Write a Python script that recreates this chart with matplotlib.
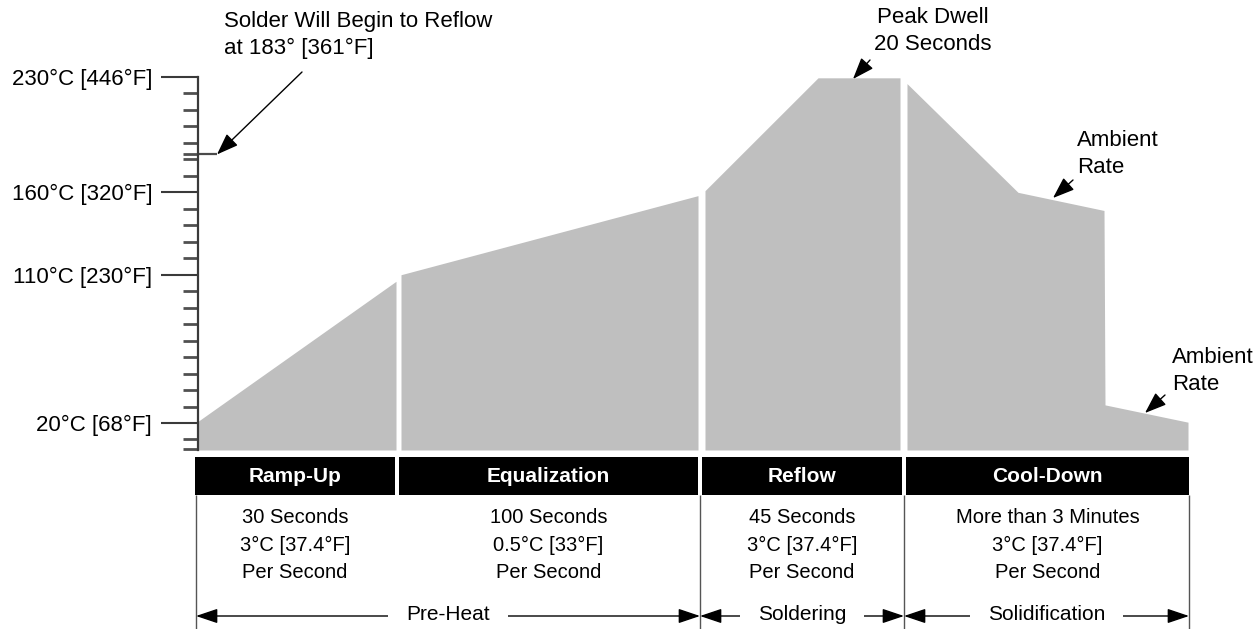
import matplotlib
matplotlib.use("Agg")
import matplotlib.pyplot as plt
from matplotlib import font_manager
from matplotlib.patches import Rectangle

# ---------------- data ----------------
phases = ["Ramp-Up", "Equalization", "Reflow", "Cool-Down"]
phase_details = [
    "30 Seconds\n3°C [37.4°F]\nPer Second",
    "100 Seconds\n0.5°C [33°F]\nPer Second",
    "45 Seconds\n3°C [37.4°F]\nPer Second",
    "More than 3 Minutes\n3°C [37.4°F]\nPer Second",
]
groups = ["Pre-Heat", "Soldering", "Solidification"]

# temperature profile (schematic position along the time axis, °C)
ramp_x = [0, 198]
ramp_t = [21, 106]
equal_x = [203, 500]
equal_t = [110, 158]
reflow_x = [507, 620, 702]
reflow_t = [161, 229.5, 229.5]
cool_x = [709, 820, 906, 907, 990]
cool_t = [226, 160, 149, 31, 20.5]

major_temps = [20, 110, 160, 230]
major_labels = ["20°C [68°F]", "110°C [230°F]", "160°C [320°F]", "230°C [446°F]"]
minor_temps = [4, 10, 30, 40, 50, 60, 70, 80, 90, 100, 120, 130, 140, 150,
               170, 180, 183, 190, 200, 210, 220]
reflow_temp = 183

# ---------------- layout ----------------
W, H = 1259, 629
X0, XW = 198, 993          # pixel left / width of plot area
Y_TOP, Y_BOT = 77, 450     # pixel top / bottom of plot area
T_TOP = 230.0
T_BOT = 20 - (Y_BOT - 423) / ((423 - Y_TOP) / 210.0)

# table column layout (same x units as plot)
col_x0 = [-3, 201, 504, 708]
col_x1 = [197, 500, 704, 991]
div_x = [-2, 502, 706, 991]
group_span = [(0, 1), (1, 2), (2, 3)]


def pick(fams):
    for f in fams:
        try:
            font_manager.findfont(font_manager.FontProperties(family=f),
                                  fallback_to_default=False)
            return f
        except Exception:
            pass
    return "DejaVu Sans"


REG = pick(["Liberation Sans", "Arial", "DejaVu Sans"])
plt.rcParams["font.family"] = [REG, "DejaVu Sans"]

FILL = "#bfbfbf"
fig = plt.figure(figsize=(W / 100, H / 100), dpi=100)

# ---------------- main profile axes ----------------
ax = fig.add_axes([X0 / W, (H - Y_BOT) / H, XW / W, (Y_BOT - Y_TOP) / H])
ax.set_xlim(0, XW)
ax.set_ylim(T_BOT, T_TOP)
for xs, ts in [(ramp_x, ramp_t), (equal_x, equal_t), (reflow_x, reflow_t), (cool_x, cool_t)]:
    ax.fill_between(xs, ts, T_BOT, color=FILL, linewidth=0, clip_on=False)

for s in ["top", "right", "bottom"]:
    ax.spines[s].set_visible(False)
ax.spines["left"].set_color("#3a3a3a")
ax.spines["left"].set_linewidth(1.6)
ax.set_xticks([])
ax.set_yticks(major_temps)
ax.set_yticklabels(major_labels, fontsize=16)
ax.set_yticks(minor_temps, minor=True)
ax.tick_params(axis="y", which="major", length=27, width=1.5, color="#3a3a3a", pad=6)
ax.tick_params(axis="y", which="minor", length=11, width=2.0, color="#505050")
ax.hlines(reflow_temp, 0, 19, color="#4a4a4a", lw=1.6)


def t_of(py):
    return 20 + (423 - py) / ((423 - Y_TOP) / 210.0)


arrow_kw = dict(arrowstyle="-|>,head_length=0.95,head_width=0.35", color="black",
                lw=1.0, mutation_scale=14, shrinkA=0, shrinkB=0)
ann_font = dict(fontsize=16, linespacing=1.38)

ax.annotate("", xy=(19, reflow_temp), xytext=(104, t_of(72)), arrowprops=arrow_kw,
            annotation_clip=False)
ax.text(26, t_of(35), "Solder Will Begin to Reflow\nat 183° [361°F]", ha="left",
        va="center", clip_on=False, **ann_font)

ax.annotate("", xy=(655, t_of(79)), xytext=(672, t_of(60)), arrowprops=arrow_kw,
            annotation_clip=False)
ax.text(735, t_of(31), "Peak Dwell\n20 Seconds", ha="center", va="center",
        clip_on=False, **ann_font)

ax.annotate("", xy=(855, t_of(198)), xytext=(875, t_of(180)), arrowprops=arrow_kw,
            annotation_clip=False)
ax.text(879, t_of(154), "Ambient\nRate", ha="left", va="center", clip_on=False, **ann_font)

ax.annotate("", xy=(947, t_of(413)), xytext=(967, t_of(395)), arrowprops=arrow_kw,
            annotation_clip=False)
ax.text(974, t_of(371), "Ambient\nRate", ha="left", va="center", clip_on=False, **ann_font)

# ---------------- table axes ----------------
TB_TOP = 457
tb = fig.add_axes([X0 / W, 0, XW / W, (H - TB_TOP) / H])
tb.set_xlim(0, XW)
tb.set_ylim(H - TB_TOP, 0)
tb.axis("off")

for name, det, a, b in zip(phases, phase_details, col_x0, col_x1):
    tb.add_patch(Rectangle((a, 0), b - a, 38, facecolor="black", edgecolor="none",
                           clip_on=False))
    cx = (a + b) / 2
    tb.text(cx, 19, name, color="white", fontsize=15, fontweight="bold",
            ha="center", va="center")
    tb.text(cx, 88, det, color="black", fontsize=14.5,
            ha="center", va="center", linespacing=1.57)

for x in div_x:
    tb.vlines(x, 38, H - TB_TOP, color="#555555", lw=1.0, clip_on=False)

for g, (i, j) in zip(groups, group_span):
    xa, xb = div_x[i], div_x[j]
    tb.annotate("", xy=(xa, 159), xytext=(xb, 159),
                arrowprops=dict(arrowstyle="<|-|>,head_length=0.95,head_width=0.32",
                                color="black", lw=1.0, mutation_scale=14,
                                shrinkA=0, shrinkB=0), annotation_clip=False)
    tb.text((xa + xb) / 2, 158, g, fontsize=15, ha="center",
            va="center", bbox=dict(facecolor="white", edgecolor="none", pad=13))

fig.savefig("out.png", dpi=100)
